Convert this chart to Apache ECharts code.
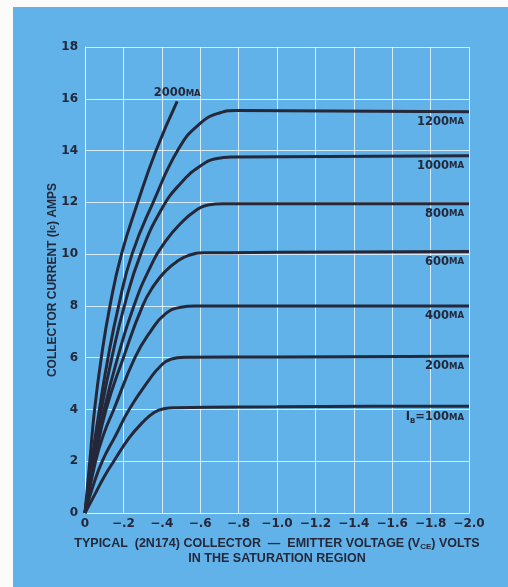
<!DOCTYPE html>
<html>
<head>
<meta charset="utf-8">
<script src="https://cdn.jsdelivr.net/npm/echarts@6/dist/echarts.min.js"></script>
<style>
  html, body { margin: 0; padding: 0; background: #fbfbf9; }
  #paper { position: absolute; left: 13px; top: 7px; width: 495px; height: 580px; background: #60b2e9; }
  #chart { position: absolute; left: 0; top: 0; width: 508px; height: 587px; }
</style>
</head>
<body>
<div id="paper"></div>
<div id="chart"></div>
<script>
// collector-emitter voltage (V) vs collector current (A), one curve per base current
var ib100 = [[0, 0], [-0.05, 0.7], [-0.1, 1.4], [-0.15, 2.0], [-0.23, 2.9], [-0.3, 3.5], [-0.36, 3.88], [-0.41, 4.03], [-0.47, 4.07], [-1.0, 4.1], [-1.5, 4.12], [-2.0, 4.12]]
var ib200 = [[0, 0], [-0.04, 1.0], [-0.09, 2.0], [-0.16, 3.0], [-0.23, 4.0], [-0.33, 5.1], [-0.39, 5.65], [-0.45, 5.95], [-0.52, 6.02], [-1.0, 6.03], [-2.0, 6.05]]
var ib400 = [[0, 0], [-0.055, 2.0], [-0.1, 3.1], [-0.15, 4.0], [-0.26, 6.0], [-0.34, 7.0], [-0.42, 7.7], [-0.5, 7.95], [-0.57, 8.0], [-1.0, 8.0], [-2.0, 8.0]]
var ib600 = [[0, 0], [-0.05, 2.0], [-0.11, 4.0], [-0.2, 6.0], [-0.3, 8.0], [-0.36, 8.8], [-0.42, 9.35], [-0.48, 9.72], [-0.54, 9.95], [-0.62, 10.05], [-1.0, 10.07], [-2.0, 10.1]]
var ib800 = [[0, 0], [-0.045, 2.0], [-0.1, 4.0], [-0.17, 6.0], [-0.25, 7.9], [-0.34, 9.5], [-0.42, 10.5], [-0.5, 11.2], [-0.57, 11.65], [-0.64, 11.9], [-0.72, 11.95], [-2.0, 11.95]]
var ib1000 = [[0, 0], [-0.04, 2.0], [-0.085, 4.0], [-0.14, 6.0], [-0.205, 8.0], [-0.29, 10.0], [-0.4, 11.75], [-0.5, 12.75], [-0.6, 13.4], [-0.68, 13.68], [-0.77, 13.75], [-2.0, 13.8]]
var ib1200 = [[0, 0], [-0.035, 2.0], [-0.075, 4.0], [-0.12, 6.0], [-0.175, 8.0], [-0.245, 10.0], [-0.355, 12.0], [-0.49, 14.1], [-0.6, 15.05], [-0.7, 15.45], [-0.79, 15.55], [-2.0, 15.5]]
var ib2000 = [[0, 0], [-0.025, 2.0], [-0.05, 4.0], [-0.085, 6.0], [-0.13, 8.0], [-0.19, 10.0], [-0.275, 12.0], [-0.37, 14.0], [-0.48, 15.9]]

var curveNames = ['100mA', '200mA', '400mA', '600mA', '800mA', '1000mA', '1200mA', '2000mA']
var curveLabels = ['{n|I}{sub|B}{n|=100}{s|MA}', '{n|200}{s|MA}', '{n|400}{s|MA}', '{n|600}{s|MA}',
  '{n|800}{s|MA}', '{n|1000}{s|MA}', '{n|1200}{s|MA}', '{n|2000}{s|MA}']
var curveData = [ib100, ib200, ib400, ib600, ib800, ib1000, ib1200, ib2000]

var ink = '#24283a'
var richText = {
  n: { fontFamily: 'DejaVu Sans', fontWeight: 'bold', fontSize: 11.5, color: ink },
  s: { fontFamily: 'DejaVu Sans', fontWeight: 'bold', fontSize: 8.5, color: ink },
  sub: { fontFamily: 'DejaVu Sans', fontWeight: 'bold', fontSize: 7, color: ink, padding: [7, 0, 0, 0] }
}

function makeSeries(name, pts, text, onTop) {
  var data = pts.map(function (p, i) {
    if (i !== pts.length - 1) return p
    return {
      value: p,
      label: onTop
        ? { show: true, position: 'top', distance: 2, formatter: text, rich: richText }
        : { show: true, position: 'bottom', align: 'right', distance: 4, offset: [-5, 0], formatter: text, rich: richText }
    }
  })
  return {
    name: name,
    type: 'line',
    smooth: 0.5,
    showSymbol: true,
    symbol: 'circle',
    symbolSize: 0,
    lineStyle: { color: ink, width: 3 },
    itemStyle: { color: ink },
    data: data
  }
}

var series = curveNames.map(function (nm, i) {
  return makeSeries(nm, curveData[i], curveLabels[i], nm === '2000mA')
})

var chart = echarts.init(document.getElementById('chart'))
chart.setOption({
  backgroundColor: 'transparent',
  animation: false,
  grid: { left: 85, right: 39, top: 47, bottom: 74 },
  graphic: [{
    type: 'text',
    x: 53,
    y: 280,
    rotation: Math.PI / 2,
    style: {
      text: '{t|COLLECTOR CURRENT (I}{sb|c}{t|) AMPS}',
      align: 'center',
      verticalAlign: 'middle',
      rich: {
        t: { fontFamily: 'Liberation Sans', fontWeight: 'bold', fontSize: 12, fill: ink },
        sb: { fontFamily: 'Liberation Sans', fontWeight: 'bold', fontSize: 9, fill: ink }
      }
    }
  }],
  xAxis: {
    type: 'value',
    inverse: true,
    min: -2,
    max: 0,
    interval: 0.2,
    axisLine: { show: true, lineStyle: { color: '#f4f8fb', width: 1 } },
    axisTick: { show: false },
    splitLine: { show: true, lineStyle: { color: 'rgba(255,255,255,0.75)', width: 1 } },
    axisLabel: {
      margin: 5,
      fontFamily: 'DejaVu Sans',
      fontWeight: 'bold',
      fontSize: 12,
      color: ink,
      formatter: function (v) {
        var r = Math.round(v * 10) / 10
        if (r === 0) return '0'
        var s = Math.abs(r).toFixed(1)
        if (Math.abs(r) < 1) s = s.slice(1)
        return '\u2212' + s
      }
    },
    name: '{t|TYPICAL  (2N174) COLLECTOR  \u2014  EMITTER VOLTAGE (V}{sb|CE}{t|) VOLTS}\n{t|IN THE SATURATION REGION}',
    nameLocation: 'middle',
    nameGap: 23,
    nameTextStyle: {
      rich: {
        t: { fontFamily: 'Liberation Sans', fontWeight: 'bold', fontSize: 12.5, color: ink, lineHeight: 15 },
        sb: { fontFamily: 'Liberation Sans', fontWeight: 'bold', fontSize: 8, color: ink, lineHeight: 15, padding: [6, 0, 0, 0] }
      }
    }
  },
  yAxis: {
    type: 'value',
    min: 0,
    max: 18,
    interval: 2,
    axisLine: { show: true, lineStyle: { color: '#f4f8fb', width: 1 } },
    axisTick: { show: false },
    splitLine: { show: true, lineStyle: { color: 'rgba(255,255,255,0.75)', width: 1 } },
    axisLabel: {
      margin: 7,
      fontFamily: 'DejaVu Sans',
      fontWeight: 'bold',
      fontSize: 12,
      color: ink
    }
  },
  series: series
})
</script>
</body>
</html>
